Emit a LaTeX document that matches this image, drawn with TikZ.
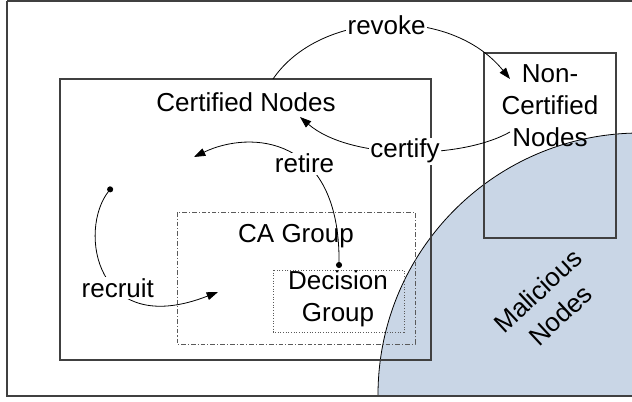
\documentclass[tikz,border=0pt]{standalone}
\usepackage{fontspec}
\setmainfont{Liberation Sans}
\usetikzlibrary{arrows.meta}
\begin{document}
\begin{tikzpicture}[x=0.75pt,y=-0.75pt,
  box/.style={draw=drawColor,line width=0.8pt},
  lbl/.style={text=black,align=center,inner sep=0pt,font=\fontsize{19.5}{24}\selectfont},
  onpath/.style={lbl,fill=white,inner sep=1pt},
  link/.style={draw=black,line width=0.6pt,{Circle[length=4.5pt]}-{Triangle[length=8.5pt,width=6pt]}},
  plainlink/.style={draw=black,line width=0.6pt,-{Triangle[length=8.5pt,width=6pt]}}]
\definecolor{drawColor}{RGB}{64,64,64}
\definecolor{fillColor}{RGB}{201,214,230}
\definecolor{grpColor}{RGB}{90,90,90}
\path[use as bounding box] (0,0) rectangle (632,401);

% malicious region
\begin{scope}
\path[clip] (7,0.8) rectangle (640,396);
\path[fill=fillColor,draw=black,line width=0.6pt] (640,395) circle (196.5pt);
\end{scope}

% frame and boxes
\path[draw=drawColor,line width=1.2pt] (7,0.8) -- (640,0.8) (7,0.8) -- (7,396) -- (640,396);
\path[box] (60,79) rectangle (431,360);
\path[box] (484,53) rectangle (616,238);
\path[draw=grpColor,line width=0.6pt,dash pattern=on 3.5pt off 1.5pt on 0.8pt off 1.5pt] (177,212) rectangle (415,344);
\path[draw=grpColor,line width=0.6pt,dash pattern=on 0.8pt off 1.2pt] (273,270) rectangle (404,332);

% labels
\node[lbl] (certified) at (246,102) {Certified Nodes};
\node[lbl] (noncertified) at (550,106) {Non-\\Certified\\Nodes};
\node[lbl] (cagroup) at (296,236) {CA Group};
\node[lbl] (decision) at (338,299) {Decision\\Group};
\node[lbl,rotate=43,font=\fontsize{19.5}{25}\selectfont] (malicious) at (549,303) {Malicious\\Nodes};

% connectors
\coordinate (revokeS) at (273,79);
\coordinate (revokeE) at (510,79);
\coordinate (certifyS) at (510,132);
\coordinate (certifyE) at (300,117);
\coordinate (retireS) at (339,268);
\coordinate (retireE) at (194,157);
\coordinate (recruitS) at (112,187);
\coordinate (recruitE) at (218,292);

\path[plainlink] (revokeS) .. controls (320,10) and (450,5) .. node[onpath,pos=0.5] (revoke) {revoke} (revokeE);
\path[plainlink] (certifyS) .. controls (460,160) and (350,160) .. node[onpath,pos=0.5] (certify) {certify} (certifyE);
\path[link] (retireS) .. controls (340,135) and (250,130) .. node[onpath,pos=0.4] (retire) {retire} (retireE);
\path[link] (recruitS) .. controls (78,230) and (95,340) .. node[onpath,pos=0.6] (recruit) {recruit} (recruitE);
\end{tikzpicture}
\end{document}
